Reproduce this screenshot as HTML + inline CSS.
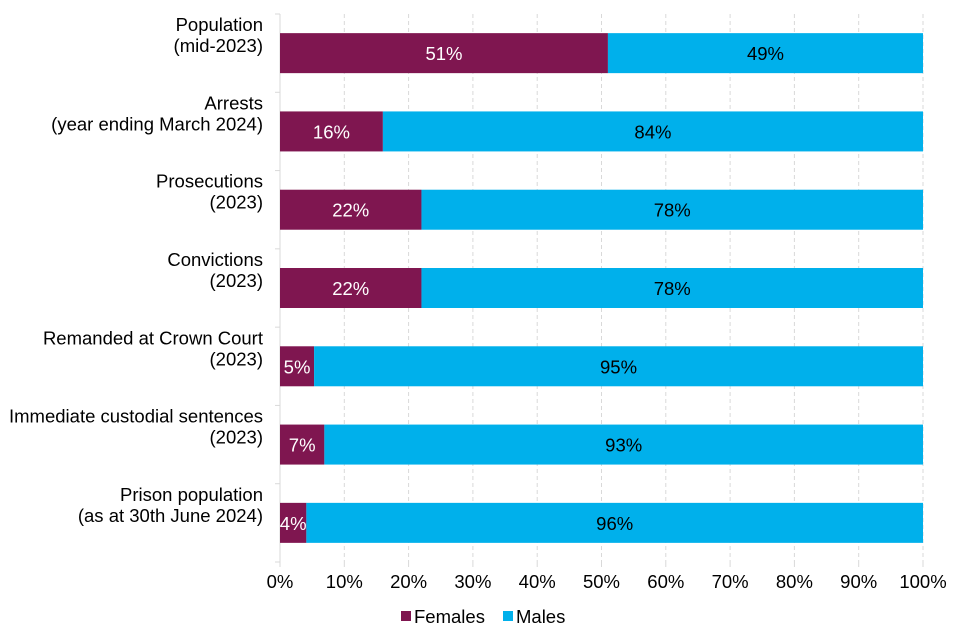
<!DOCTYPE html>
<html><head><meta charset="utf-8"><style>
body{margin:0;background:#fff;}
svg{display:block;font-family:"Liberation Sans",Arial,sans-serif;}
</style></head><body>
<svg id="chart" width="960" height="640"></svg>
<script>
const categories=[["Population","(mid-2023)"],["Arrests","(year ending March 2024)"],["Prosecutions","(2023)"],["Convictions","(2023)"],["Remanded at Crown Court","(2023)"],["Immediate custodial sentences","(2023)"],["Prison population","(as at 30th June 2024)"]];
const females=[51,16,22,22,5.3,6.9,4.1];
const males=[49,84,78,78,94.7,93.1,95.9];
const femaleLabels=["51%","16%","22%","22%","5%","7%","4%"];
const maleLabels=["49%","84%","78%","78%","95%","93%","96%"];
const ticks=[0,10,20,30,40,50,60,70,80,90,100];
const NS="http://www.w3.org/2000/svg";
const svg=document.getElementById('chart');
const x0=280,x1=923,yTop=14,yBot=562;
const FS='18.5';
const xs=v=>x0+(x1-x0)*v/100;
const band=(yBot-yTop)/categories.length;
const yc=i=>yTop+band*(i+0.5);
const barH=40;
function mk(t,a){const e=document.createElementNS(NS,t);for(const k in a)e.setAttribute(k,a[k]);svg.appendChild(e);return e;}
ticks.forEach(t=>{
 if(t>0){const g=mk('line',{x1:xs(t),x2:xs(t),y1:yTop,y2:yBot,stroke:'#d9d9d9','stroke-dasharray':'4,3'});
 
 }
 const tk=mk('line',{x1:xs(t),x2:xs(t),y1:yBot,y2:yBot+5,stroke:'#d9d9d9'});
 
 
 const l=mk('text',{x:xs(t),y:yBot+26,'text-anchor':'middle','font-size':FS,fill:'#000'});
 l.textContent=t+'%';
 
 
});
for(let i=0;i<=categories.length;i++){
 const t=mk('line',{x1:x0-5,x2:x0,y1:yTop+band*i,y2:yTop+band*i,stroke:'#d9d9d9'});
 
 
}
const ax=mk('line',{x1:x0,x2:x0,y1:yTop,y2:yBot,stroke:'#d9d9d9'});


categories.forEach((c,i)=>{
 const y=yc(i);
 const fb=mk('rect',{x:x0,y:y-barH/2,width:xs(females[i])-x0,height:barH,fill:'#7f1650'});
 
 
 const mb=mk('rect',{x:xs(females[i]),y:y-barH/2,width:xs(females[i]+males[i])-xs(females[i]),height:barH,fill:'#00b0eb'});
 
 
 const fl=mk('text',{x:(x0+xs(females[i]))/2,y:y+7,'text-anchor':'middle','font-size':FS,fill:'#fff'});
 fl.textContent=femaleLabels[i];
 
 
 const ml=mk('text',{x:(xs(females[i])+xs(females[i]+males[i]))/2,y:y+7,'text-anchor':'middle','font-size':FS,fill:'#000'});
 ml.textContent=maleLabels[i];
 
 
 c.forEach((s,j)=>{
  const t=mk('text',{x:263,y:y-22+j*21,'text-anchor':'end','font-size':FS,fill:'#000'});
  t.textContent=s;
  
  
 });
});
const legend=[["Females","#7f1650",401],["Males","#00b0eb",503]];
legend.forEach(l=>{
 const r=mk('rect',{x:l[2],y:611,width:10,height:10,fill:l[1]});
 
 
 const t=mk('text',{x:l[2]+13,y:623,'font-size':FS,fill:'#000'});
 t.textContent=l[0];
 
 
});
</script>
</body></html>
